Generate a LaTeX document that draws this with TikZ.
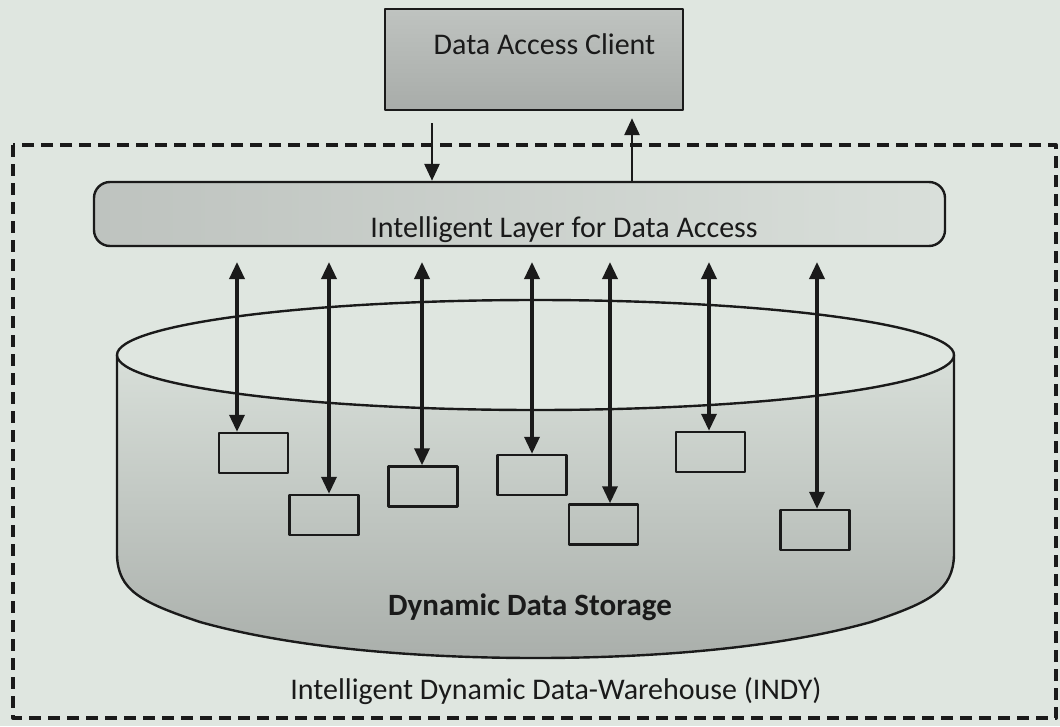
\documentclass[tikz,border=0pt]{standalone}
\usepackage{fontspec}
\setmainfont{Carlito}
\usetikzlibrary{arrows.meta}
\definecolor{bg}{HTML}{DFE6E0}
\definecolor{ink}{HTML}{1A1A1A}
\definecolor{cyltop}{HTML}{D8DFD9}
\definecolor{cylbot}{HTML}{AAAFAB}
\definecolor{clitop}{HTML}{BFC3C0}
\definecolor{climid}{HTML}{D2D6D2}
\definecolor{clibot}{HTML}{A8ACA9}
\definecolor{layleft}{HTML}{BEC3BF}
\definecolor{layright}{HTML}{D9DFDA}
\begin{document}
\begin{tikzpicture}[x=1pt,y=-1pt, line join=round,
  outline/.style={draw=ink, line width=2.4pt},
  sbox/.style={outline, minimum width=69pt, minimum height=40pt, inner sep=0pt},
  arr/.style={draw=ink, line width=3.4pt, -{Triangle[length=17pt,width=15pt]}},
  darr/.style={draw=ink, line width=3.4pt, {Triangle[length=17pt,width=15pt]}-{Triangle[length=17pt,width=15pt]}},
  lbl/.style={font=\fontsize{30}{36}\selectfont, text=ink, anchor=base, inner sep=0pt}]
\fill[bg] (0,0) rectangle (1060,726);
\useasboundingbox (0,0) rectangle (1060,726);

% dashed frame of the warehouse
\draw[ink, line width=4pt, dash pattern=on 12pt off 7pt] (13,145) rectangle (1056,718);

% cylinder body
\fill[top color=cyltop, bottom color=cylbot]
  (117,355) -- (117,555) .. controls (118,590) and (140,602) .. (200,622)
  .. controls (300,650) and (430,658) .. (535.5,658)
  .. controls (641,658) and (771,650) .. (871,622)
  .. controls (931,602) and (953,590) .. (954,555) -- (954,355) -- cycle;
\draw[outline]
  (117,355) -- (117,555) .. controls (118,590) and (140,602) .. (200,622)
  .. controls (300,650) and (430,658) .. (535.5,658)
  .. controls (641,658) and (771,650) .. (871,622)
  .. controls (931,602) and (953,590) .. (954,555) -- (954,355);
\draw[outline, fill=bg] (535.5,355) ellipse [x radius=418.5, y radius=55];

% storage blocks
\node[sbox] (b1) at (253.5,453) {};
\node[sbox] (b2) at (324,515) {};
\node[sbox] (b3) at (423,486.5) {};
\node[sbox] (b4) at (532,475) {};
\node[sbox] (b5) at (603.5,524.5) {};
\node[sbox] (b6) at (710.5,452) {};
\node[sbox] (b7) at (815,530) {};

% intelligent layer and client
\node[draw=ink, line width=2.4pt, rounded corners=16pt, left color=layleft, right color=layright,
      minimum width=851pt, minimum height=64pt, inner sep=0pt] (layer) at (519.5,214) {};
\node[draw=ink, line width=2.4pt, top color=clitop, middle color=climid, bottom color=clibot,
      minimum width=298pt, minimum height=101pt, inner sep=0pt] (client) at (534,59.5) {};

% arrow columns
\coordinate (t1) at (237,262);
\coordinate (t2) at (329,262);
\coordinate (t3) at (422,262);
\coordinate (t4) at (532,262);
\coordinate (t5) at (610,262);
\coordinate (t6) at (709,262);
\coordinate (t7) at (817,262);
\draw[darr] (t1) -- (t1 |- b1.north);
\draw[darr] (t2) -- (t2 |- b2.north);
\draw[darr] (t3) -- (t3 |- b3.north);
\draw[darr] (t4) -- (t4 |- b4.north);
\draw[darr] (t5) -- (t5 |- b5.north);
\draw[darr] (t6) -- (t6 |- b6.north);
\draw[darr] (t7) -- (t7 |- b7.north);

% client <-> layer
\coordinate (dn) at (432,0);
\coordinate (up) at (632,0);
\draw[arr, line width=2.8pt, shorten <=12pt] (dn |- client.south) -- (dn |- layer.north);
\draw[arr, line width=2.8pt, shorten >=7pt] (up |- layer.north) -- (up |- client.south);

% labels
\node[lbl] (clientlbl) at (544.5,54) {Data Access Client};
\node[lbl] (layerlbl) at (564,237) {Intelligent Layer for Data Access};
\node[lbl, font=\fontsize{31}{36}\selectfont\bfseries] (storelbl) at (530,615) {Dynamic Data Storage};
\node[lbl] (indylbl) at (556,699) {Intelligent Dynamic Data-Warehouse (INDY)};
\end{tikzpicture}
\end{document}
